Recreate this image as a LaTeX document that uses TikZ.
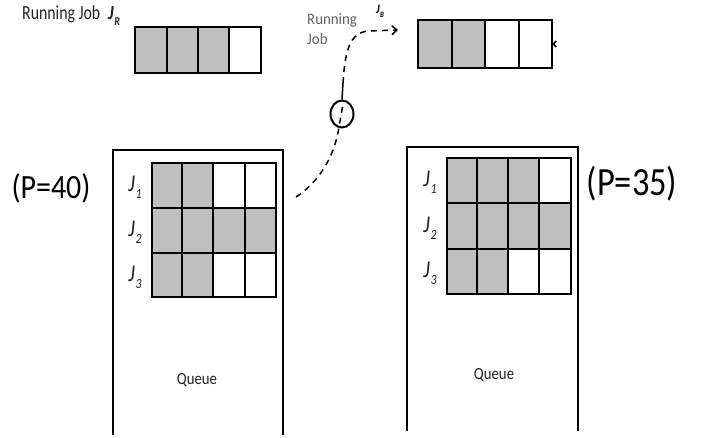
\documentclass[tikz,border=0pt]{standalone}
\usepackage{fontspec}
\usepackage{graphicx}
\setmainfont{Carlito}
\usetikzlibrary{shapes.geometric,arrows.meta}

% narrow text, as set in the figure
\newcommand{\nrw}[2][0.85]{\scalebox{#1}[1]{#2}}
% italic job label J with a subscript
\newcommand{\jlab}[1]{\nrw{\itshape J\kern0.8pt\raisebox{-0.3em}{\fontsize{14}{14}\selectfont #1}}}

\definecolor{cellgray}{RGB}{191,191,191}
\definecolor{txtgray}{RGB}{35,35,35}

\tikzset{
  cellline/.style={line width=2.6pt, line cap=rect},
  queuebox/.style={line width=1.8pt},
  flow/.style={line width=1.5pt, dash pattern=on 6pt off 5pt},
  plain/.style={font=\fontsize{18}{20}\selectfont, text=txtgray, inner sep=0pt},
  jl/.style={font=\fontsize{24}{26}\selectfont, text=txtgray, inner sep=0pt},
}

\begin{document}
\begin{tikzpicture}[x=1pt,y=-1pt]
\useasboundingbox (0,0) rectangle (701,438);
\fill[white] (0,0) rectangle (701,438);

% ---- running job before (top left) ----
\node[plain, font=\fontsize{20}{22}\selectfont, anchor=base west] (rjl) at (22,20) {\nrw[0.79]{Running Job}};
\node[jl, anchor=base west] (jr) at (108,20)
  {\nrw{\fontsize{20}{20}\selectfont\bfseries\itshape J\kern0.5pt\raisebox{-0.3em}{\fontsize{12}{12}\selectfont R}}};
\foreach \xa/\xb/\f in {135/167/cellgray,167/198/cellgray,198/229/cellgray,229/261/white}
  \fill[\f] (\xa,27) rectangle (\xb,73);
\draw[cellline] (135,27) rectangle (261,73);
\foreach \x in {167,198,229} \draw[cellline] (\x,27) -- (\x,73);
\node[inner sep=0pt, minimum width=126pt, minimum height=46pt] (runA) at (198,50) {};

% ---- running job after (top right) ----
\node[plain, font=\fontsize{16}{18}\selectfont, anchor=base west, text=black!62] (rl1) at (307,25) {\nrw[0.93]{Running}};
\node[plain, font=\fontsize{16}{18}\selectfont, anchor=base west, text=black!62] (rl2) at (307,45) {\nrw[0.93]{Job}};
\node[anchor=base west, inner sep=0pt] (jb) at (376,14)
  {\nrw{\fontsize{13}{13}\selectfont\bfseries\itshape J\kern0.3pt\raisebox{-0.3em}{\fontsize{8}{8}\selectfont B}}};
\foreach \xa/\xb/\f in {418/452/cellgray,452/485/cellgray,485/519/white,519/552/white}
  \fill[\f] (\xa,20) rectangle (\xb,68);
\draw[cellline] (418,20) rectangle (552,68);
\foreach \x in {452,485,519} \draw[cellline] (\x,20) -- (\x,68);
\node[inner sep=0pt, minimum width=134pt, minimum height=48pt] (runB) at (485,44) {};
\draw[line width=1.6pt] (556,41) -- (553.5,44) -- (556,47);

% ---- queue before (left) ----
\draw[queuebox] (113,435) -- (113,150) -- (283,150) -- (283,435);
\node[inner sep=0pt, minimum width=170pt, minimum height=285pt] (qA) at (198,292) {};
\foreach \r/\ya/\yb/\a/\b/\c/\d in {
    1/163/208/cellgray/cellgray/white/white,
    2/208/253/cellgray/cellgray/cellgray/cellgray,
    3/253/297/cellgray/cellgray/white/white} {
  \fill[\a] (152,\ya) rectangle (182,\yb);
  \fill[\b] (182,\ya) rectangle (213,\yb);
  \fill[\c] (213,\ya) rectangle (245,\yb);
  \fill[\d] (245,\ya) rectangle (276,\yb);
  \node[jl] (jA\r) at (135,{(\ya+\yb)/2+2}) {\jlab{\r}};
}
\draw[cellline] (152,163) rectangle (276,297);
\foreach \x in {182,213,245} \draw[cellline] (\x,163) -- (\x,297);
\foreach \y in {208,253} \draw[cellline] (152,\y) -- (276,\y);
\node[plain, font=\fontsize{17}{19}\selectfont] (qlA) at (197,380) {\nrw[0.87]{Queue}};
\node[inner sep=0pt, font=\fontsize{34}{36}\selectfont] (pA) at (51,188) {\nrw[0.88]{(P=40)}};

% ---- queue after (right) ----
\draw[queuebox] (407,431) -- (407,147) -- (578,147) -- (578,431);
\node[inner sep=0pt, minimum width=171pt, minimum height=284pt] (qB) at (492,289) {};
\foreach \r/\ya/\yb/\a/\b/\c/\d in {
    1/158/203/cellgray/cellgray/cellgray/white,
    2/203/249/cellgray/cellgray/cellgray/cellgray,
    3/249/294/cellgray/cellgray/white/white} {
  \fill[\a] (447,\ya) rectangle (477,\yb);
  \fill[\b] (477,\ya) rectangle (508,\yb);
  \fill[\c] (508,\ya) rectangle (539,\yb);
  \fill[\d] (539,\ya) rectangle (571,\yb);
  \node[jl] (jB\r) at (430,{(\ya+\yb)/2+2}) {\jlab{\r}};
}
\draw[cellline] (447,158) rectangle (571,294);
\foreach \x in {477,508,539} \draw[cellline] (\x,158) -- (\x,294);
\foreach \y in {203,249} \draw[cellline] (447,\y) -- (571,\y);
\node[plain, font=\fontsize{17}{19}\selectfont] (qlB) at (494,375) {\nrw[0.87]{Queue}};
\node[inner sep=0pt, font=\fontsize{40}{42}\selectfont] (pB) at (632,184) {\nrw[0.86]{(P=35)}};

% ---- job moved from the queue to the processor ----
\coordinate (src) at (296,197);
\coordinate (knee) at (343,83);
\coordinate (tip) at (398,30);
\node[ellipse, draw, line width=2pt, minimum width=23pt, minimum height=27pt, inner sep=0pt] (chk) at (342,114) {};
\draw[flow] (src) .. controls (316,184) and (334,160) .. (339,127) -- (343,104);
\draw[line width=1.5pt] (chk.north) -- (knee);
\draw[flow, -{Straight Barb[length=5pt,width=9pt]}] (knee) .. controls (345,52) and (349,33) .. (368,31) -- (tip);
\end{tikzpicture}
\end{document}
